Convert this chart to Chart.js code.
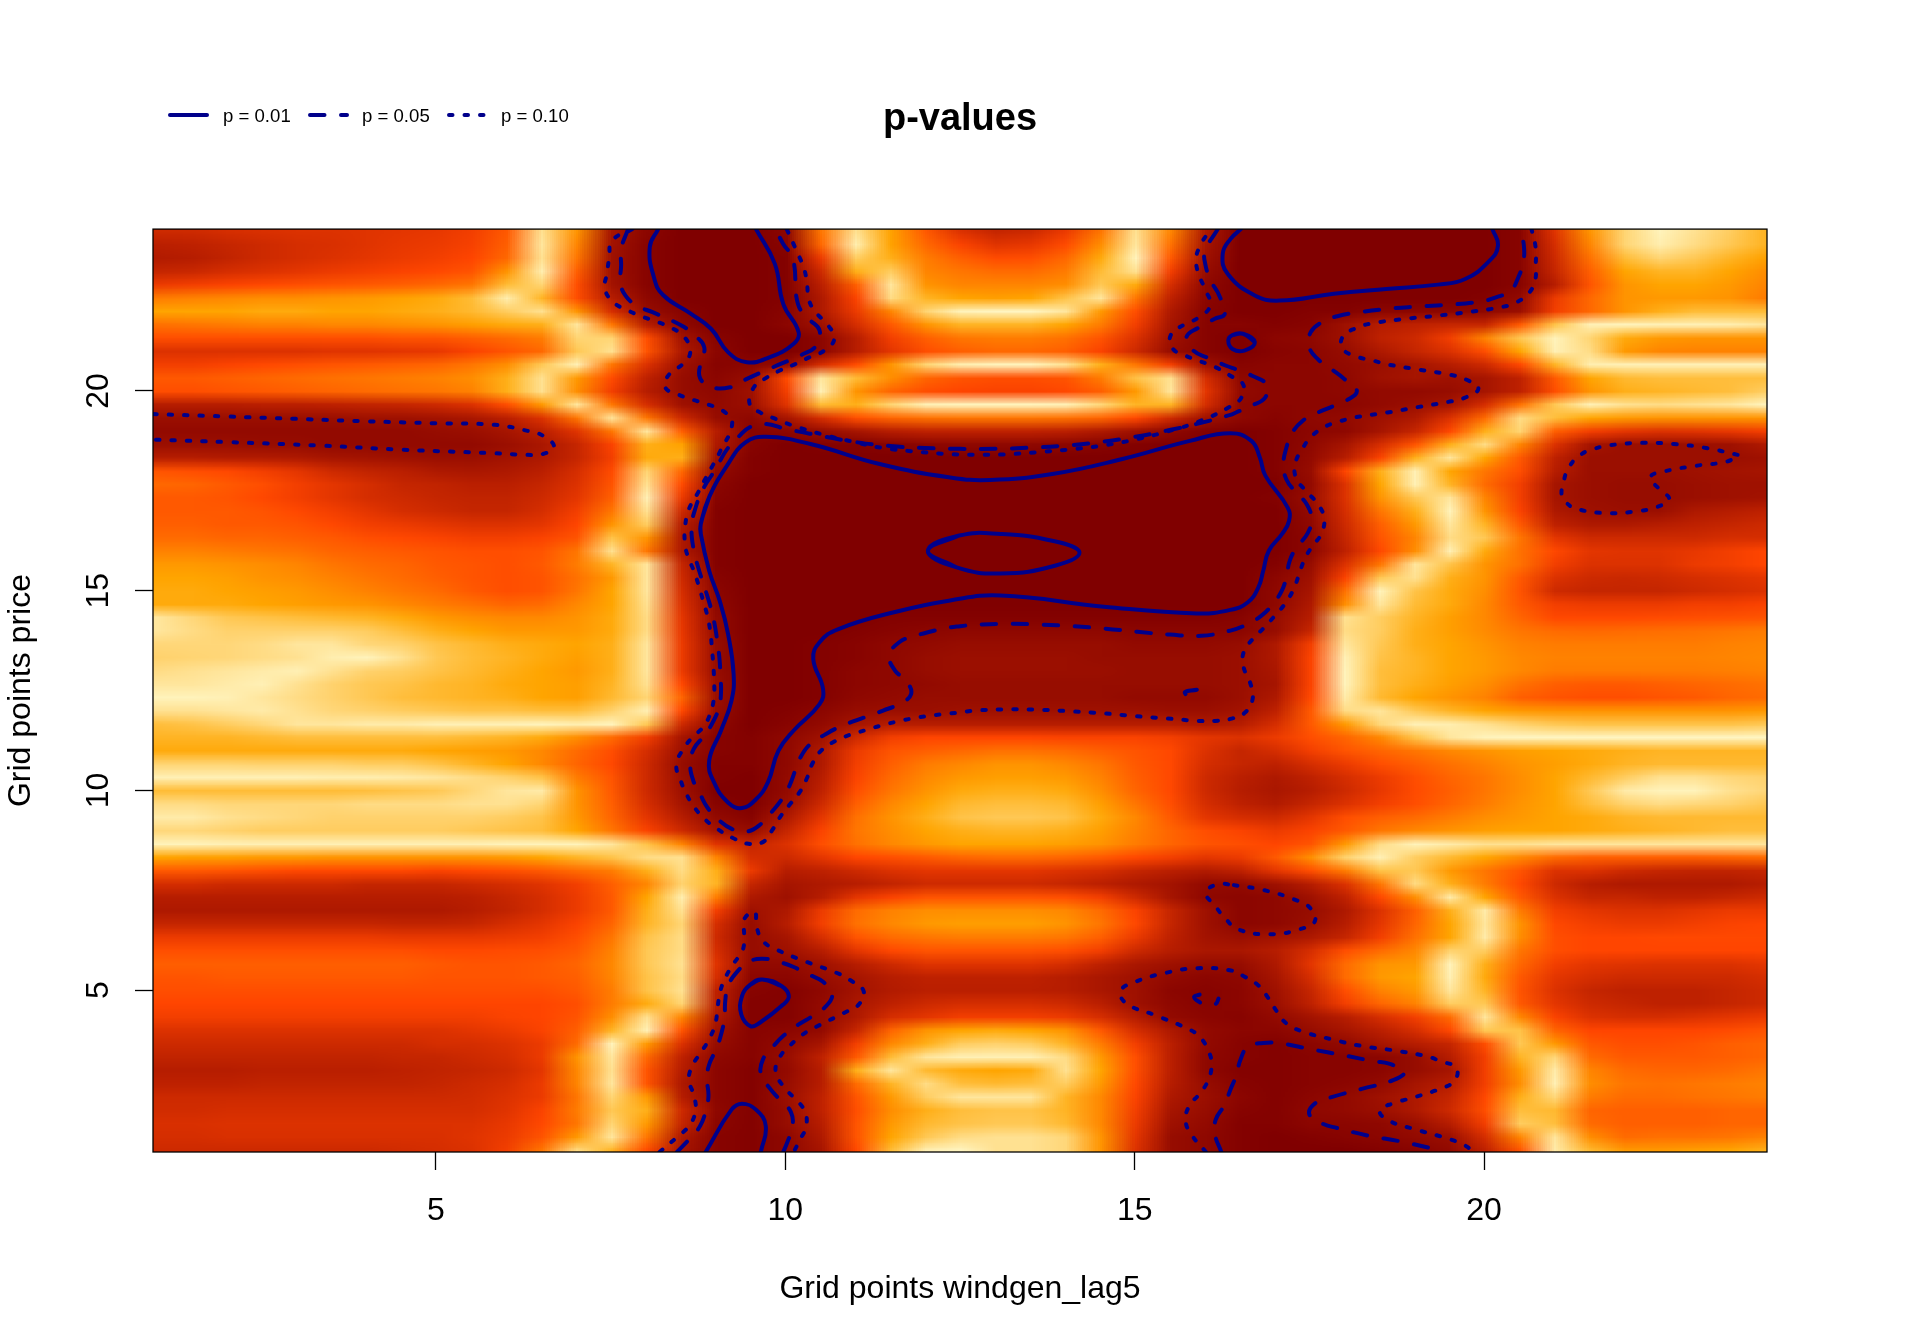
<!DOCTYPE html>
<html>
<head>
<meta charset="utf-8">
<title>p-values</title>
<script src="https://cdn.jsdelivr.net/npm/chart.js@4"></script>
<style>
  html, body { margin: 0; background: #fff; }
  canvas { display: block; }
</style>
</head>
<body>
<canvas id="chart" width="1920" height="1344"></canvas>
<script>
const titleText = 'p-values';
const xLabel = 'Grid points windgen_lag5';
const yLabel = 'Grid points price';
const tickValues = [5, 10, 15, 20];
const legendLabels = ['p = 0.01', 'p = 0.05', 'p = 0.10'];

// heat grid: x runs 1..24 in steps of 0.5, rows run y = 24 down to 1 in steps of 1/3, p-value x 100
const gridX = [1, 24];
const gridY = [24, 1];
const pValues = [
[20,20,22,23,24,24,25,26,27,30,40,90,60,10,3,0,0,0,3,50,90,65,40,24,18,20,28,50,90,55,12,0,0,0,0,0,0,0,0,2,25,60,85,97,90,82,72],
[15,16,18,20,22,23,25,27,28,31,42,92,55,9,2,0,0,0,2,45,95,65,45,32,25,27,35,58,92,48,10,0,0,0,0,0,0,0,0,2,22,55,85,95,88,80,72],
[13,14,17,20,22,24,26,28,30,33,45,90,50,8,2,0,0,0,1,28,82,70,52,42,35,36,45,68,97,40,8,0,0,0,0,0,0,0,0,2,20,48,75,85,80,72,65],
[18,19,22,24,26,28,30,32,34,38,60,95,42,8,2,0,0,0,1,20,70,82,55,50,46,46,52,75,90,30,6,0,0,0,0,0,0,0,0,2,18,42,66,72,72,66,58],
[28,30,32,34,36,38,40,42,45,50,75,85,36,9,2,0,0,0,1,15,42,92,60,55,55,55,58,80,68,22,4,0,0,0,0,0,0,0,0,2,14,38,60,66,66,62,55],
[52,54,56,58,58,60,62,65,68,75,95,72,36,14,4,0,0,0,1,12,32,88,72,66,64,66,78,92,50,16,3,0,0,0,0,0,0,0,1,5,28,45,60,62,62,60,52],
[66,66,66,68,68,66,66,68,70,74,82,90,60,22,6,2,0,0,2,12,28,55,85,97,98,98,92,62,36,12,2,0,0,1,1,3,3,3,4,7,30,45,60,70,75,75,75],
[48,50,52,54,54,56,56,58,60,64,68,70,92,50,14,4,0,0,3,8,22,40,60,72,72,72,66,52,30,10,2,2,1,2,8,14,16,18,18,40,78,96,97,96,96,95,92],
[36,36,36,36,36,36,36,38,38,42,46,52,85,85,36,9,2,0,0,3,14,30,42,50,52,52,48,38,24,8,2,0,3,4,8,16,20,30,55,80,97,85,68,62,60,60,60],
[24,24,24,24,24,25,25,26,27,32,38,45,80,90,38,12,3,0,0,3,14,26,36,42,45,45,42,32,20,6,2,0,2,3,6,12,18,24,36,66,96,88,62,55,54,54,54],
[30,30,32,34,36,38,40,42,44,50,58,80,96,50,24,8,2,3,5,22,35,60,85,95,97,97,90,70,50,30,8,2,3,3,5,7,10,14,20,34,72,95,96,96,96,96,96],
[40,40,42,44,46,48,50,52,54,58,70,90,62,35,16,6,3,6,35,92,75,58,44,38,36,36,38,52,78,90,22,4,3,3,4,8,10,8,10,16,40,66,74,76,76,76,76],
[36,36,38,40,42,44,46,48,50,54,70,90,58,30,14,6,4,8,30,96,60,44,36,33,32,32,34,42,62,92,26,5,3,3,4,5,5,6,10,16,36,60,70,72,74,76,82],
[14,14,14,15,15,16,17,18,20,24,36,62,92,50,22,8,5,7,25,75,70,85,96,97,97,97,96,86,72,72,22,4,3,3,3,5,7,10,22,48,80,96,90,88,90,92,97],
[7,7,7,7,7,7,8,8,9,11,15,24,50,92,50,20,6,4,10,22,36,44,48,50,50,50,48,44,34,20,8,4,2,4,5,8,12,24,46,88,76,66,62,60,60,60,60],
[5,5,5,5,5,5,5,5,6,7,10,15,25,50,92,42,14,2,3,6,10,14,16,16,16,16,15,12,8,4,1,0,1,3,4,10,18,34,70,85,42,30,26,24,25,27,30],
[7,7,7,6,6,5,5,5,5,5,7,11,18,32,70,65,12,2,0,1,1,2,3,4,4,4,3,2,1,0,0,0,1,4,10,22,38,70,88,55,24,10,7,7,7,8,12],
[14,14,13,13,12,10,9,8,7,7,9,12,18,30,68,70,8,1,0,0,0,0,0,0,0,0,0,0,0,0,0,0,1,5,14,32,70,92,66,40,16,7,7,7,7,7,8],
[38,36,34,30,26,20,17,15,12,11,12,15,22,35,85,45,5,1,0,0,0,0,0,0,0,0,0,0,0,0,0,0,1,6,33,70,96,66,50,36,14,7,7,7,8,9,10],
[45,44,40,36,30,26,22,18,17,15,15,18,24,38,90,35,3,0,0,0,0,0,0,0,0,0,0,0,0,0,0,0,0,5,24,66,96,72,46,30,10,7,6,6,7,8,8],
[40,40,38,34,30,26,22,20,18,17,17,20,26,42,96,28,2,0,0,0,0,0,0,0,0,0,0,0,0,0,0,0,1,6,24,60,80,92,55,30,10,7,6,6,7,8,9],
[40,40,40,38,34,30,26,22,20,18,18,22,30,50,90,20,1,0,0,0,0,0,0,0,0,0,0,0,0,0,0,0,0,5,22,50,70,97,60,32,12,8,7,7,12,14,16],
[42,42,40,40,38,34,30,28,26,24,24,26,33,60,82,14,1,0,0,0,0,0,0,0,0,0,0,0,0,0,0,0,0,4,20,42,62,92,72,40,16,12,12,14,16,18,20],
[46,46,44,44,42,40,36,34,32,30,30,32,38,78,60,12,1,0,0,0,0,0,0,0,0,0,0,0,0,0,0,0,0,3,18,38,55,88,80,50,26,20,20,20,20,22,22],
[54,54,52,50,48,44,42,40,38,36,36,38,50,90,50,12,1,0,0,0,0,0,0,0,0,0,0,0,0,0,0,0,0,3,16,34,58,96,68,48,34,26,25,25,27,30,33],
[62,62,60,58,55,50,46,44,40,38,36,40,52,72,92,18,1,0,0,0,0,0,0,0,0,0,0,0,0,0,0,0,1,6,24,50,92,78,60,48,30,24,24,24,28,30,33],
[66,66,64,60,58,54,50,46,42,38,36,38,48,62,92,20,2,0,0,0,0,0,0,0,0,0,0,0,0,0,0,0,3,8,32,80,90,70,60,40,24,20,19,20,22,24,26],
[68,68,66,64,62,58,54,50,46,40,36,38,50,66,92,22,3,0,0,0,0,0,0,0,0,0,0,0,0,0,0,0,4,10,48,97,78,68,58,38,20,18,18,18,20,22,24],
[68,68,68,66,64,62,60,56,52,48,44,46,56,66,90,24,4,0,0,0,0,0,0,0,0,0,0,0,0,0,0,0,4,12,58,92,75,68,56,40,30,28,28,28,30,30,32],
[92,86,80,78,76,74,72,68,62,58,56,56,60,68,88,26,5,0,0,0,0,1,1,1,1,1,1,1,1,1,1,2,6,14,90,82,72,64,56,44,34,34,34,35,36,37,38],
[92,88,84,84,84,84,82,76,70,66,62,62,62,68,88,27,5,0,0,0,1,2,3,4,4,4,4,4,3,3,3,3,6,18,88,82,70,64,57,50,46,45,46,47,48,50,52],
[86,86,86,88,92,92,86,84,78,74,70,68,66,70,92,28,6,0,0,1,2,4,5,6,6,6,6,6,5,5,5,6,12,30,92,80,70,66,60,54,52,52,52,52,52,54,55],
[84,85,86,88,90,95,97,90,80,75,72,68,64,70,92,28,6,0,0,1,2,4,6,7,7,7,7,6,6,6,6,7,12,32,96,78,72,66,62,56,54,54,54,54,54,55,56],
[88,90,92,94,96,90,84,82,78,74,70,66,62,70,92,28,6,0,0,1,3,4,6,7,7,7,7,7,6,6,6,7,11,32,97,76,72,66,62,56,52,52,52,52,52,53,54],
[92,92,94,96,90,84,80,78,74,72,68,66,64,72,90,34,7,0,0,1,3,4,5,6,6,6,6,6,6,6,6,7,10,32,97,76,70,64,58,48,42,40,40,42,44,46,48],
[97,97,96,92,88,84,80,76,74,72,70,66,64,74,85,44,7,0,0,1,4,5,6,6,6,6,6,6,5,5,5,7,12,34,94,74,66,60,54,42,38,36,36,38,40,44,46],
[90,90,92,94,90,86,84,82,80,78,78,76,76,84,96,34,6,0,1,3,6,7,7,8,8,8,8,8,8,7,7,9,16,40,88,92,80,72,66,62,60,60,60,60,60,60,62],
[76,78,82,86,92,92,94,94,96,96,96,97,95,97,80,20,4,0,2,5,10,14,14,14,14,14,14,14,14,14,12,14,22,40,62,86,96,95,90,84,80,78,78,78,78,78,80],
[72,72,72,74,76,76,76,76,76,74,72,68,58,46,30,10,2,1,4,8,20,30,33,33,33,33,32,32,32,30,26,24,28,36,44,56,78,92,97,98,98,98,98,98,98,98,98],
[68,68,68,68,68,68,68,68,66,64,62,56,46,36,22,8,2,1,4,12,28,38,42,45,48,48,46,42,38,34,24,18,22,30,38,44,50,56,60,64,66,68,70,72,72,72,72],
[85,85,85,84,84,84,82,82,78,72,66,56,44,34,20,6,1,1,4,12,30,42,52,56,60,60,56,50,40,34,22,18,16,22,28,36,42,48,54,60,64,68,72,74,74,74,74],
[96,96,96,96,96,95,95,94,92,88,84,78,52,38,20,7,1,0,5,14,32,46,56,62,64,64,62,54,42,34,20,15,12,16,22,28,36,44,50,58,66,74,82,90,90,86,84],
[75,75,75,75,75,75,76,78,80,86,92,94,60,40,20,8,0,0,5,16,36,50,60,68,70,70,68,58,44,34,20,14,11,14,20,27,35,42,50,58,66,80,94,97,97,90,86],
[88,88,86,86,86,86,88,88,88,90,90,85,60,42,22,10,2,0,7,20,42,56,66,74,76,76,74,64,50,36,22,16,13,18,24,30,36,44,52,60,66,76,84,88,86,84,80],
[94,94,90,88,86,84,84,84,84,84,82,78,62,44,26,14,5,2,12,26,48,60,70,78,80,80,78,68,56,40,26,22,20,26,36,42,46,52,58,62,66,68,72,74,74,74,74],
[86,86,84,82,82,82,82,82,82,80,78,76,66,50,32,20,9,6,18,32,50,58,66,70,72,72,70,64,54,44,36,32,28,32,40,50,56,60,64,66,66,68,70,72,74,76,76],
[97,97,96,96,96,96,96,96,96,96,97,97,97,92,78,55,25,18,24,36,48,56,62,66,66,66,64,60,52,44,38,36,33,38,62,88,97,94,90,90,92,92,92,92,92,92,92],
[66,64,64,62,62,60,60,60,60,60,62,66,72,78,88,90,55,22,20,26,33,36,40,44,46,46,44,40,34,30,26,28,40,58,84,96,82,74,66,56,46,42,42,42,42,44,46],
[40,40,38,36,34,34,34,34,32,34,36,40,46,52,70,88,70,28,14,16,20,24,26,26,26,26,24,22,18,15,13,16,26,36,52,78,80,62,50,38,24,24,20,18,17,17,18],
[22,22,20,20,20,20,18,18,18,20,22,25,30,42,55,84,72,18,10,12,14,17,20,20,20,20,18,15,12,9,5,5,8,14,24,50,88,70,52,34,20,14,12,12,12,12,14],
[14,14,14,14,14,14,14,14,14,15,18,22,28,40,66,95,52,12,8,14,26,32,38,38,38,38,36,30,20,10,4,3,4,8,16,34,58,94,66,40,24,18,18,16,16,18,20],
[12,12,12,12,12,12,12,12,12,14,17,22,28,40,70,90,30,8,12,28,46,54,58,58,58,58,56,46,32,18,8,3,4,6,12,24,42,70,94,52,30,26,24,24,26,28,28],
[18,18,18,18,18,18,18,17,17,18,22,26,32,44,72,85,22,6,14,30,48,56,62,64,64,64,60,50,34,18,8,3,4,7,14,26,44,66,92,60,34,30,28,28,30,32,33],
[28,28,28,28,28,28,28,27,27,27,28,30,36,50,78,88,20,6,10,22,38,46,50,52,52,52,50,42,28,16,9,7,9,12,18,30,48,66,94,58,36,33,33,34,34,34,34],
[36,36,36,36,36,36,36,36,34,34,35,36,40,54,80,88,22,6,8,14,26,34,38,38,38,38,36,30,20,14,11,11,14,22,36,46,56,84,82,50,36,33,33,33,33,33,33],
[42,42,42,42,42,42,42,42,40,38,38,40,44,56,80,90,25,5,5,8,14,20,25,25,25,25,22,16,11,8,6,6,12,26,46,60,62,97,70,45,30,26,25,24,24,24,26],
[38,38,40,40,40,40,40,40,38,38,38,40,42,55,78,88,22,3,3,6,10,14,16,16,16,16,14,11,8,5,3,4,10,22,46,62,66,96,68,40,26,22,20,20,20,20,22],
[36,36,36,36,36,36,36,36,36,36,36,36,40,52,78,90,16,2,1,4,9,13,15,15,15,15,14,11,8,3,2,3,8,18,36,54,62,92,72,38,24,18,16,16,16,18,20],
[33,33,33,33,33,33,33,33,33,33,33,33,36,52,68,85,15,1,1,5,11,16,20,22,22,22,20,15,8,4,2,3,7,16,30,44,54,82,80,40,26,20,18,16,16,18,20],
[30,30,30,30,30,30,30,30,30,30,32,33,38,58,90,55,12,1,1,5,12,22,26,30,30,30,28,22,14,5,3,2,5,9,14,22,30,46,92,56,32,24,22,22,24,26,28],
[24,24,24,24,24,24,24,24,24,26,28,32,42,72,96,38,8,2,3,5,18,44,60,66,68,66,60,40,22,12,5,3,3,6,10,15,22,34,80,78,44,33,33,33,33,35,38],
[20,20,20,20,20,20,20,20,22,22,24,28,46,97,62,24,6,2,5,10,30,56,70,82,84,82,72,52,30,15,5,2,1,3,5,10,14,18,36,80,62,40,36,36,38,42,44],
[17,17,17,17,17,17,17,18,18,20,22,28,60,92,45,16,4,2,6,16,40,75,92,96,96,96,88,62,36,15,4,2,1,2,2,3,6,14,30,72,86,46,40,40,40,42,44],
[14,14,14,15,15,15,15,16,17,18,20,26,56,90,38,14,3,1,5,14,70,92,74,68,66,68,90,66,36,15,4,1,1,2,2,3,6,10,30,62,94,55,46,44,44,46,50],
[16,16,16,17,17,17,17,17,18,20,22,28,55,92,38,12,3,1,6,14,46,72,88,76,74,76,82,62,34,14,6,2,1,2,3,5,10,14,30,58,96,58,50,48,50,52,54],
[20,20,20,20,20,20,20,20,20,21,24,28,50,85,62,14,3,1,7,16,38,62,82,92,92,92,72,56,32,12,7,3,1,3,5,8,12,18,34,70,86,52,46,46,48,50,52],
[21,21,22,22,22,22,22,22,22,22,25,32,52,80,70,20,4,1,6,16,36,58,70,76,78,78,72,56,30,10,6,2,1,4,5,7,12,20,36,76,74,44,42,42,42,44,44],
[23,23,24,24,24,24,24,24,24,24,27,34,50,85,62,18,3,1,6,14,38,62,74,78,80,80,74,56,28,8,5,1,1,3,3,4,7,14,30,82,76,46,42,42,42,44,44],
[22,22,23,23,23,23,23,23,23,25,28,38,62,92,50,12,2,1,4,12,38,66,80,88,90,90,86,60,26,6,4,1,0,1,2,3,5,7,22,55,92,58,46,48,48,50,54],
[20,20,20,20,20,20,20,21,22,24,30,50,88,72,35,10,2,1,4,10,34,75,96,98,90,90,86,60,24,6,4,1,0,0,0,1,2,5,16,38,94,74,62,62,64,66,70],
];

// p = 0.01 contours
const solidTopLeft = [[8.18,24.05],[8.06,23.6],[8.12,22.84],[8.25,22.4],[8.64,21.94],[8.94,21.55],[9.18,20.97],[9.45,20.72],[9.77,20.84],[10.12,21.18],[10.19,21.47],[9.97,22.18],[9.85,23.18],[9.58,24.05]];
const solidCentre = [[8.79,16.42],[8.79,16.67],[8.91,17.34],[9.18,18.17],[9.43,18.71],[9.72,18.85],[10.36,18.67],[11.35,18.17],[12.34,17.84],[12.93,17.77],[13.82,17.92],[14.81,18.29],[15.79,18.75],[16.37,18.94],[16.67,18.75],[16.79,18.34],[16.87,17.88],[17.19,17.08],[17.21,16.75],[17.11,16.42],[16.92,16],[16.84,15.5],[16.77,15.08],[16.62,14.71],[16.37,14.52],[15.89,14.43],[14.56,14.6],[13.08,14.88],[12.34,14.75],[11.6,14.48],[10.76,14.04],[10.49,13.71],[10.4,13.29],[10.54,12.54],[10.49,12.16],[10.12,11.5],[9.9,10.99],[9.75,10.2],[9.58,9.78],[9.38,9.56],[9.18,9.7],[8.98,10.2],[8.91,10.74],[9.08,11.5],[9.23,12.25],[9.26,12.91],[9.18,13.92],[9.06,14.75],[8.91,15.5],[8.79,16.42],[8.79,16.67],[8.91,17.34]];
const solidInner = [[12.44,15.59],[12.04,16],[12.49,16.38],[13.08,16.42],[13.82,16.25],[14.21,15.96],[13.87,15.63],[13.08,15.43],[12.44,15.59],[12.04,16],[12.49,16.38]];
const solidTopRight = [[16.52,24.05],[16.37,23.8],[16.26,23.43],[16.33,22.93],[16.72,22.39],[17.07,22.26],[17.85,22.43],[18.6,22.55],[19.34,22.66],[19.73,22.8],[20.08,23.26],[20.2,23.64],[20.12,24.05]];
const solidCircle = [[16.4,21.4],[16.55,21.43],[16.72,21.22],[16.57,21.01],[16.4,21.05],[16.34,21.26],[16.4,21.4],[16.55,21.43],[16.72,21.22]];
const solidLow = [[9.95,5.1],[9.67,5.27],[9.5,5.14],[9.38,4.85],[9.37,4.39],[9.5,4.1],[9.63,4.18],[9.97,4.64],[10.05,4.85],[9.95,5.1],[9.67,5.27],[9.5,5.14]];
const solidBottom = [[8.86,0.95],[9.23,2.01],[9.38,2.16],[9.58,2.01],[9.72,1.6],[9.65,0.95]];

// p = 0.05 contours
const dashedTopLeft = [[7.75,24.05],[7.65,23.55],[7.65,23.14],[7.64,22.72],[7.71,22.39],[7.88,22.13],[8.1,21.97],[8.52,21.63],[8.71,21.38],[8.84,21.09],[8.79,20.72],[8.78,20.32],[8.96,20.09],[9.21,20.09],[9.4,20.26],[9.82,20.59],[10.24,20.91],[10.44,21.13],[10.49,21.51],[10.34,21.8],[10.18,22.18],[10.11,23.3],[9.97,23.68],[9.86,24.05]];
const dashedMain = [[16.19,24.05],[16.01,23.51],[16.01,23.18],[16.09,22.76],[16.21,22.39],[16.29,21.93],[16.14,21.8],[15.92,21.59],[15.74,21.34],[15.84,21.01],[16.06,20.82],[16.31,20.63],[16.47,20.53],[16.68,20.38],[16.88,20.17],[16.87,19.84],[16.67,19.63],[16.45,19.46],[16.37,19.4],[15.95,19.2],[15.5,19.02],[15.0,18.85],[14.5,18.72],[14.0,18.63],[13.5,18.58],[13.0,18.55],[12.5,18.55],[12.0,18.57],[11.5,18.62],[11.0,18.72],[10.5,18.88],[10.0,19.05],[9.72,19.17],[9.5,19.1],[9.33,18.85],[9.17,18.55],[9.05,18.2],[8.95,17.9],[8.84,17.6],[8.72,17.1],[8.66,16.6],[8.69,16],[8.75,15.6],[8.82,15.21],[8.89,14.83],[8.95,14.46],[9,14.04],[9.03,13.67],[9.06,13.25],[9.07,12.86],[9.08,12.48],[9.05,12.08],[8.96,11.7],[8.84,11.37],[8.69,11.04],[8.64,10.66],[8.68,10.26],[8.78,9.91],[8.89,9.56],[9.04,9.27],[9.24,9.03],[9.45,8.97],[9.65,9.16],[9.8,9.45],[9.95,9.78],[10.06,10.12],[10.14,10.49],[10.23,10.87],[10.37,11.18],[10.56,11.39],[10.76,11.58],[10.96,11.72],[11.2,11.87],[11.4,12],[11.62,12.16],[11.8,12.41],[11.72,12.76],[11.57,13],[11.49,13.37],[11.63,13.71],[11.85,13.86],[12.04,13.96],[12.29,14.06],[12.5,14.11],[12.75,14.15],[13.2,14.17],[13.66,14.15],[14.12,14.11],[14.57,14.05],[15.04,13.97],[15.5,13.9],[15.95,13.87],[16.37,14],[16.6,14.15],[16.81,14.37],[16.96,14.63],[17.1,14.98],[17.17,15.33],[17.22,15.75],[17.32,16.09],[17.47,16.42],[17.53,16.79],[17.46,17.17],[17.31,17.46],[17.17,17.79],[17.13,18.17],[17.17,18.57],[17.25,18.94],[17.41,19.26],[17.6,19.44],[17.83,19.61],[18.03,19.76],[18.18,20],[18,20.3],[17.81,20.55],[17.63,20.78],[17.5,21.09],[17.52,21.47],[17.7,21.74],[17.9,21.87],[18.14,21.95],[18.6,22.05],[19.04,22.11],[19.51,22.16],[19.95,22.24],[20.17,22.34],[20.38,22.51],[20.49,22.84],[20.56,23.22],[20.57,23.64],[20.51,24.05]];
const dashedTiny = [[15.89,12.52],[15.72,12.46],[15.8,12.33],[15.88,12.36]];
const dashedLowLeft = [[8.45,0.95],[8.64,1.3],[8.78,1.6],[8.86,1.97],[8.9,2.35],[8.88,2.77],[8.91,3.14],[9.01,3.52],[9.08,3.89],[9.13,4.31],[9.14,4.73],[9.18,5.1],[9.3,5.44],[9.48,5.71],[9.67,5.79],[9.92,5.7],[10.12,5.58],[10.34,5.39],[10.54,5.21],[10.67,4.89],[10.56,4.56],[10.37,4.33],[10.18,4.13],[9.98,3.87],[9.83,3.6],[9.68,3.27],[9.65,2.9],[9.77,2.56],[9.92,2.26],[10.08,1.95],[10.1,1.57],[10.03,1.2],[9.97,0.95]];
const dashedLowRight = [[16.24,0.95],[16.15,1.39],[16.16,1.76],[16.29,2.14],[16.37,2.51],[16.46,2.89],[16.51,3.24],[16.62,3.58],[16.84,3.68],[17.09,3.67],[17.53,3.52],[17.99,3.37],[18.43,3.22],[18.64,3.16],[18.86,2.96],[18.7,2.75],[18.25,2.53],[17.83,2.33],[17.59,2.18],[17.5,1.89],[17.7,1.65],[17.9,1.55],[18.34,1.36],[18.79,1.22],[19.25,1.04],[19.4,0.95]];
const dashedSpeck = [[15.93,4.89],[15.85,4.83],[15.92,4.71],[16.04,4.64],[16.16,4.66],[16.2,4.79]];

// p = 0.10 contours
const dottedMain = [[7.81,24.05],[7.52,23.76],[7.48,23.35],[7.45,22.97],[7.42,22.55],[7.54,22.22],[7.73,22.03],[7.95,21.86],[8.15,21.74],[8.38,21.57],[8.56,21.34],[8.64,20.97],[8.53,20.67],[8.34,20.42],[8.28,20.09],[8.48,19.9],[8.69,19.77],[8.91,19.65],[9.11,19.5],[9.24,19.19],[9.06,18.46],[8.96,18.13],[8.84,17.75],[8.74,17.42],[8.62,17.04],[8.57,16.67],[8.56,16.25],[8.6,15.88],[8.69,15.5],[8.76,15.13],[8.83,14.71],[8.89,14.33],[8.93,13.93],[8.95,13.54],[8.97,13.14],[8.98,12.75],[8.98,12.35],[8.93,11.95],[8.83,11.6],[8.66,11.31],[8.53,11.01],[8.44,10.64],[8.5,10.26],[8.59,9.89],[8.71,9.55],[8.86,9.26],[9.04,9.02],[9.25,8.81],[9.45,8.67],[9.67,8.7],[9.81,9],[9.92,9.32],[10.06,9.64],[10.21,9.97],[10.31,10.31],[10.39,10.68],[10.52,11.01],[10.71,11.23],[10.92,11.39],[11.15,11.51],[11.36,11.62],[11.59,11.72],[11.81,11.8],[12.03,11.86],[12.26,11.91],[12.49,11.95],[12.72,12],[13.18,12.03],[13.64,12.02],[14.09,11.98],[14.55,11.93],[15.01,11.86],[15.47,11.8],[15.92,11.74],[16.15,11.74],[16.37,11.79],[16.58,11.95],[16.69,12.31],[16.65,12.71],[16.56,13.08],[16.56,13.46],[16.69,13.79],[16.85,14.07],[17.01,14.38],[17.15,14.67],[17.27,15.02],[17.35,15.39],[17.43,15.78],[17.54,16.11],[17.67,16.42],[17.71,16.83],[17.61,17.19],[17.45,17.5],[17.31,17.82],[17.3,18.19],[17.4,18.55],[17.53,18.86],[17.73,19.11],[17.94,19.24],[18.16,19.34],[18.62,19.46],[19.07,19.6],[19.53,19.74],[19.74,19.84],[19.92,20.06],[19.75,20.28],[19.53,20.4],[19.08,20.53],[18.63,20.66],[18.41,20.76],[18.18,20.86],[17.98,21.05],[17.98,21.36],[18.18,21.58],[18.4,21.69],[18.85,21.8],[19.31,21.88],[19.76,21.97],[20.22,22.09],[20.44,22.2],[20.63,22.43],[20.73,22.76],[20.74,23.16],[20.74,23.57],[20.68,24.05]];
const dottedEllipse = [[10.02,24.05],[10.18,23.43],[10.27,23.05],[10.31,22.68],[10.34,22.26],[10.45,21.94],[10.61,21.65],[10.7,21.3],[10.55,21],[10.34,20.84],[10.14,20.67],[9.92,20.51],[9.72,20.32],[9.55,20.09],[9.49,19.67],[9.65,19.45],[9.86,19.3],[10.08,19.15],[10.51,18.92],[10.96,18.73],[11.4,18.57],[11.87,18.48],[12.33,18.42],[12.78,18.4],[13.24,18.42],[13.7,18.48],[14.16,18.55],[14.61,18.65],[15.05,18.8],[15.5,19],[15.94,19.25],[16.36,19.6],[16.53,19.84],[16.55,20.17],[16.37,20.38],[16.16,20.59],[15.94,20.74],[15.73,20.88],[15.54,21.07],[15.52,21.41],[15.71,21.66],[15.91,21.83],[16.08,22.13],[16.02,22.51],[15.93,22.86],[15.88,23.25],[15.93,23.61],[16.09,24.05]];
const dottedLeft = [[0.95,19.42],[2,19.36],[3,19.3],[4,19.24],[5,19.19],[5.84,19.15],[6.31,19],[6.53,18.88],[6.69,18.6],[6.53,18.42],[6.3,18.4],[5.84,18.44],[4.5,18.53],[3.37,18.63],[2,18.72],[0.95,18.78]];
const dottedRight = [[23.63,18.4],[23.18,18.57],[22.72,18.67],[22.27,18.7],[21.8,18.64],[21.58,18.55],[21.38,18.4],[21.22,18.1],[21.14,17.74],[21.11,17.38],[21.16,17.23],[21.32,17.05],[21.78,16.94],[22.24,17],[22.47,17.09],[22.65,17.29],[22.51,17.54],[22.38,17.84],[22.59,17.99],[23.05,18.13],[23.49,18.24],[23.63,18.4]];
const dottedIsland = [[16.42,7.63],[16.86,7.5],[17.3,7.26],[17.51,7.06],[17.58,6.73],[17.39,6.54],[16.93,6.4],[16.48,6.52],[16.31,6.77],[16.16,7.09],[16.02,7.44],[16.19,7.65],[16.42,7.63]];
const dottedLowLeft = [[8.2,0.95],[8.45,1.32],[8.62,1.6],[8.71,1.94],[8.7,2.32],[8.62,2.77],[8.68,3.14],[8.8,3.46],[8.92,3.81],[9,4.17],[9.03,4.56],[9.07,4.98],[9.15,5.34],[9.27,5.69],[9.39,6],[9.41,6.4],[9.41,6.77],[9.56,6.96],[9.59,6.58],[9.68,6.23],[9.87,6.02],[10.3,5.71],[10.74,5.43],[10.93,5.25],[11.12,4.98],[11.05,4.64],[10.86,4.45],[10.45,4.09],[10.24,3.88],[10.07,3.62],[9.93,3.35],[9.86,2.97],[9.96,2.62],[10.12,2.31],[10.27,2],[10.3,1.6],[10.21,1.26],[10.12,0.95]];
const dottedLowRight = [[16.02,0.95],[15.82,1.37],[15.73,1.72],[15.78,2.1],[15.93,2.41],[16.05,2.74],[16.1,3.14],[16.05,3.5],[15.92,3.85],[15.73,4.06],[15.3,4.37],[14.88,4.67],[14.8,4.98],[15.01,5.21],[15.46,5.44],[15.9,5.55],[16.36,5.5],[16.56,5.35],[16.77,5.12],[16.91,4.81],[17.03,4.48],[17.17,4.17],[17.38,3.98],[17.82,3.77],[18.26,3.6],[18.72,3.49],[19.17,3.35],[19.38,3.22],[19.6,3.06],[19.58,2.74],[19.37,2.53],[18.94,2.29],[18.72,2.18],[18.51,1.99],[18.62,1.75],[19.05,1.5],[19.49,1.28],[19.73,1.11],[19.85,0.95]];

const CONTOUR_COLOR = '#00008b';
const solidDash = [];
const longDash = [14.5, 16.5];
const dotDash = [3.5, 12];

// colour ramp for the image, stops at p x 100
const RAMP = [[0, [128, 0, 0]], [33, [255, 69, 0]], [66, [255, 165, 0]], [100, [255, 250, 205]]];

function rampColor(v) {
  for (let i = 1; i < RAMP.length; i++) {
    if (v <= RAMP[i][0]) {
      const [a, ca] = RAMP[i - 1];
      const [b, cb] = RAMP[i];
      const t = (v - a) / (b - a);
      return ca.map((c, k) => Math.round(c + (cb[k] - c) * t));
    }
  }
  return RAMP[RAMP.length - 1][1];
}

function contourDataset(points, dash) {
  return {
    data: points.map(p => ({ x: p[0], y: p[1] })),
    showLine: true,
    borderColor: CONTOUR_COLOR,
    borderWidth: 4,
    borderDash: dash,
    borderCapStyle: 'round',
    borderJoinStyle: 'round',
    tension: 0.45,
    pointRadius: 0,
  };
}

/* ── Heat image: one source pixel per value, smoothed when scaled up ── */
const heatPlugin = {
  id: 'heat',
  beforeDatasetsDraw(chart) {
    const { ctx, chartArea, scales } = chart;
    const rows = pValues.length;
    const cols = pValues[0].length;
    const src = document.createElement('canvas');
    src.width = cols;
    src.height = rows;
    const sctx = src.getContext('2d');
    const img = sctx.createImageData(cols, rows);
    pValues.forEach((row, r) => row.forEach((v, c) => {
      const rgb = rampColor(v);
      const o = (r * cols + c) * 4;
      img.data[o] = rgb[0];
      img.data[o + 1] = rgb[1];
      img.data[o + 2] = rgb[2];
      img.data[o + 3] = 255;
    }));
    sctx.putImageData(img, 0, 0);

    const halfX = (gridX[1] - gridX[0]) / (cols - 1) / 2;
    const halfY = (gridY[0] - gridY[1]) / (rows - 1) / 2;
    const left = scales.x.getPixelForValue(gridX[0] - halfX);
    const right = scales.x.getPixelForValue(gridX[1] + halfX);
    const top = scales.y.getPixelForValue(gridY[0] + halfY);
    const bottom = scales.y.getPixelForValue(gridY[1] - halfY);

    ctx.save();
    ctx.beginPath();
    ctx.rect(chartArea.left, chartArea.top, chartArea.width, chartArea.height);
    ctx.clip();
    ctx.imageSmoothingEnabled = true;
    ctx.drawImage(src, left, top, right - left, bottom - top);
    ctx.restore();
  },
  afterDraw(chart) {
    const { ctx, chartArea } = chart;
    ctx.save();
    ctx.strokeStyle = '#000';
    ctx.lineWidth = 1.3;
    ctx.strokeRect(chartArea.left, chartArea.top, chartArea.width, chartArea.height);
    ctx.restore();
  },
};

/* ── Line legend above the plot ── */
const legendPlugin = {
  id: 'lineLegend',
  afterDraw(chart) {
    const { ctx } = chart;
    const dashes = [solidDash, longDash, dotDash];
    const lineStarts = [170, 310, 449];
    const textStarts = [223, 362, 501];
    ctx.save();
    ctx.font = '18.6px "Liberation Sans"';
    ctx.textBaseline = 'middle';
    ctx.textAlign = 'left';
    legendLabels.forEach((label, i) => {
      ctx.beginPath();
      ctx.setLineDash(dashes[i]);
      ctx.lineCap = 'round';
      ctx.lineWidth = 4;
      ctx.strokeStyle = CONTOUR_COLOR;
      ctx.moveTo(lineStarts[i], 115);
      ctx.lineTo(lineStarts[i] + 37, 115);
      ctx.stroke();
      ctx.setLineDash([]);
      ctx.fillStyle = '#000';
      ctx.fillText(label, textStarts[i], 117);
    });
    ctx.restore();
  },
};

new Chart(document.getElementById('chart'), {
  type: 'scatter',
  data: {
    datasets: [
      solidTopLeft, solidCentre, solidInner, solidTopRight, solidCircle, solidLow, solidBottom,
    ].map(p => contourDataset(p, solidDash)).concat(
      [dashedTopLeft, dashedMain, dashedTiny, dashedLowLeft, dashedLowRight, dashedSpeck].map(p => contourDataset(p, longDash)),
      [dottedMain, dottedEllipse, dottedLeft, dottedRight, dottedIsland, dottedLowLeft, dottedLowRight].map(p => contourDataset(p, dotDash))
    ),
  },
  plugins: [heatPlugin, legendPlugin],
  options: {
    responsive: false,
    animation: false,
    plugins: {
      legend: { display: false },
      tooltip: { enabled: false },
      title: {
        display: true,
        text: titleText,
        color: '#000',
        font: { family: '"Liberation Sans"', size: 38, weight: 'bold', lineHeight: 1.2 },
        padding: { top: 96.5, bottom: 87 },
      },
    },
    scales: {
      x: {
        type: 'linear',
        min: 0.95,
        max: 24.05,
        afterFit: s => { s.height = 192; },
        afterBuildTicks: s => { s.ticks = tickValues.map(v => ({ value: v })); },
        border: { display: false },
        grid: { drawOnChartArea: false, tickLength: 18, tickColor: '#000', tickWidth: 1.3 },
        ticks: { color: '#000', padding: 22, maxRotation: 0, font: { family: '"Liberation Sans"', size: 32 } },
        title: {
          display: true,
          text: xLabel,
          color: '#000',
          font: { family: '"Liberation Sans"', size: 32, lineHeight: 1.2 },
          padding: { top: 0, bottom: 35.6 },
        },
      },
      y: {
        type: 'linear',
        min: 0.95,
        max: 24.05,
        afterFit: s => { s.width = 153; },
        afterBuildTicks: s => { s.ticks = tickValues.map(v => ({ value: v })); },
        border: { display: false },
        grid: { drawOnChartArea: false, tickLength: 18, tickColor: '#000', tickWidth: 1.3 },
        ticks: { color: '#000', padding: 18.5, minRotation: 90, maxRotation: 90, crossAlign: 'center', font: { family: '"Liberation Sans"', size: 32 } },
        title: {
          display: true,
          text: yLabel,
          color: '#000',
          font: { family: '"Liberation Sans"', size: 32, lineHeight: 1 },
          padding: { top: 5, bottom: 0 },
        },
      },
      // empty axis on the right keeps the plot margin while the title stays centred on the page
      yRight: {
        type: 'linear',
        position: 'right',
        afterFit: s => { s.width = 153; },
        border: { display: false },
        grid: { display: false },
        ticks: { display: false },
      },
    },
  },
});
</script>
</body>
</html>
